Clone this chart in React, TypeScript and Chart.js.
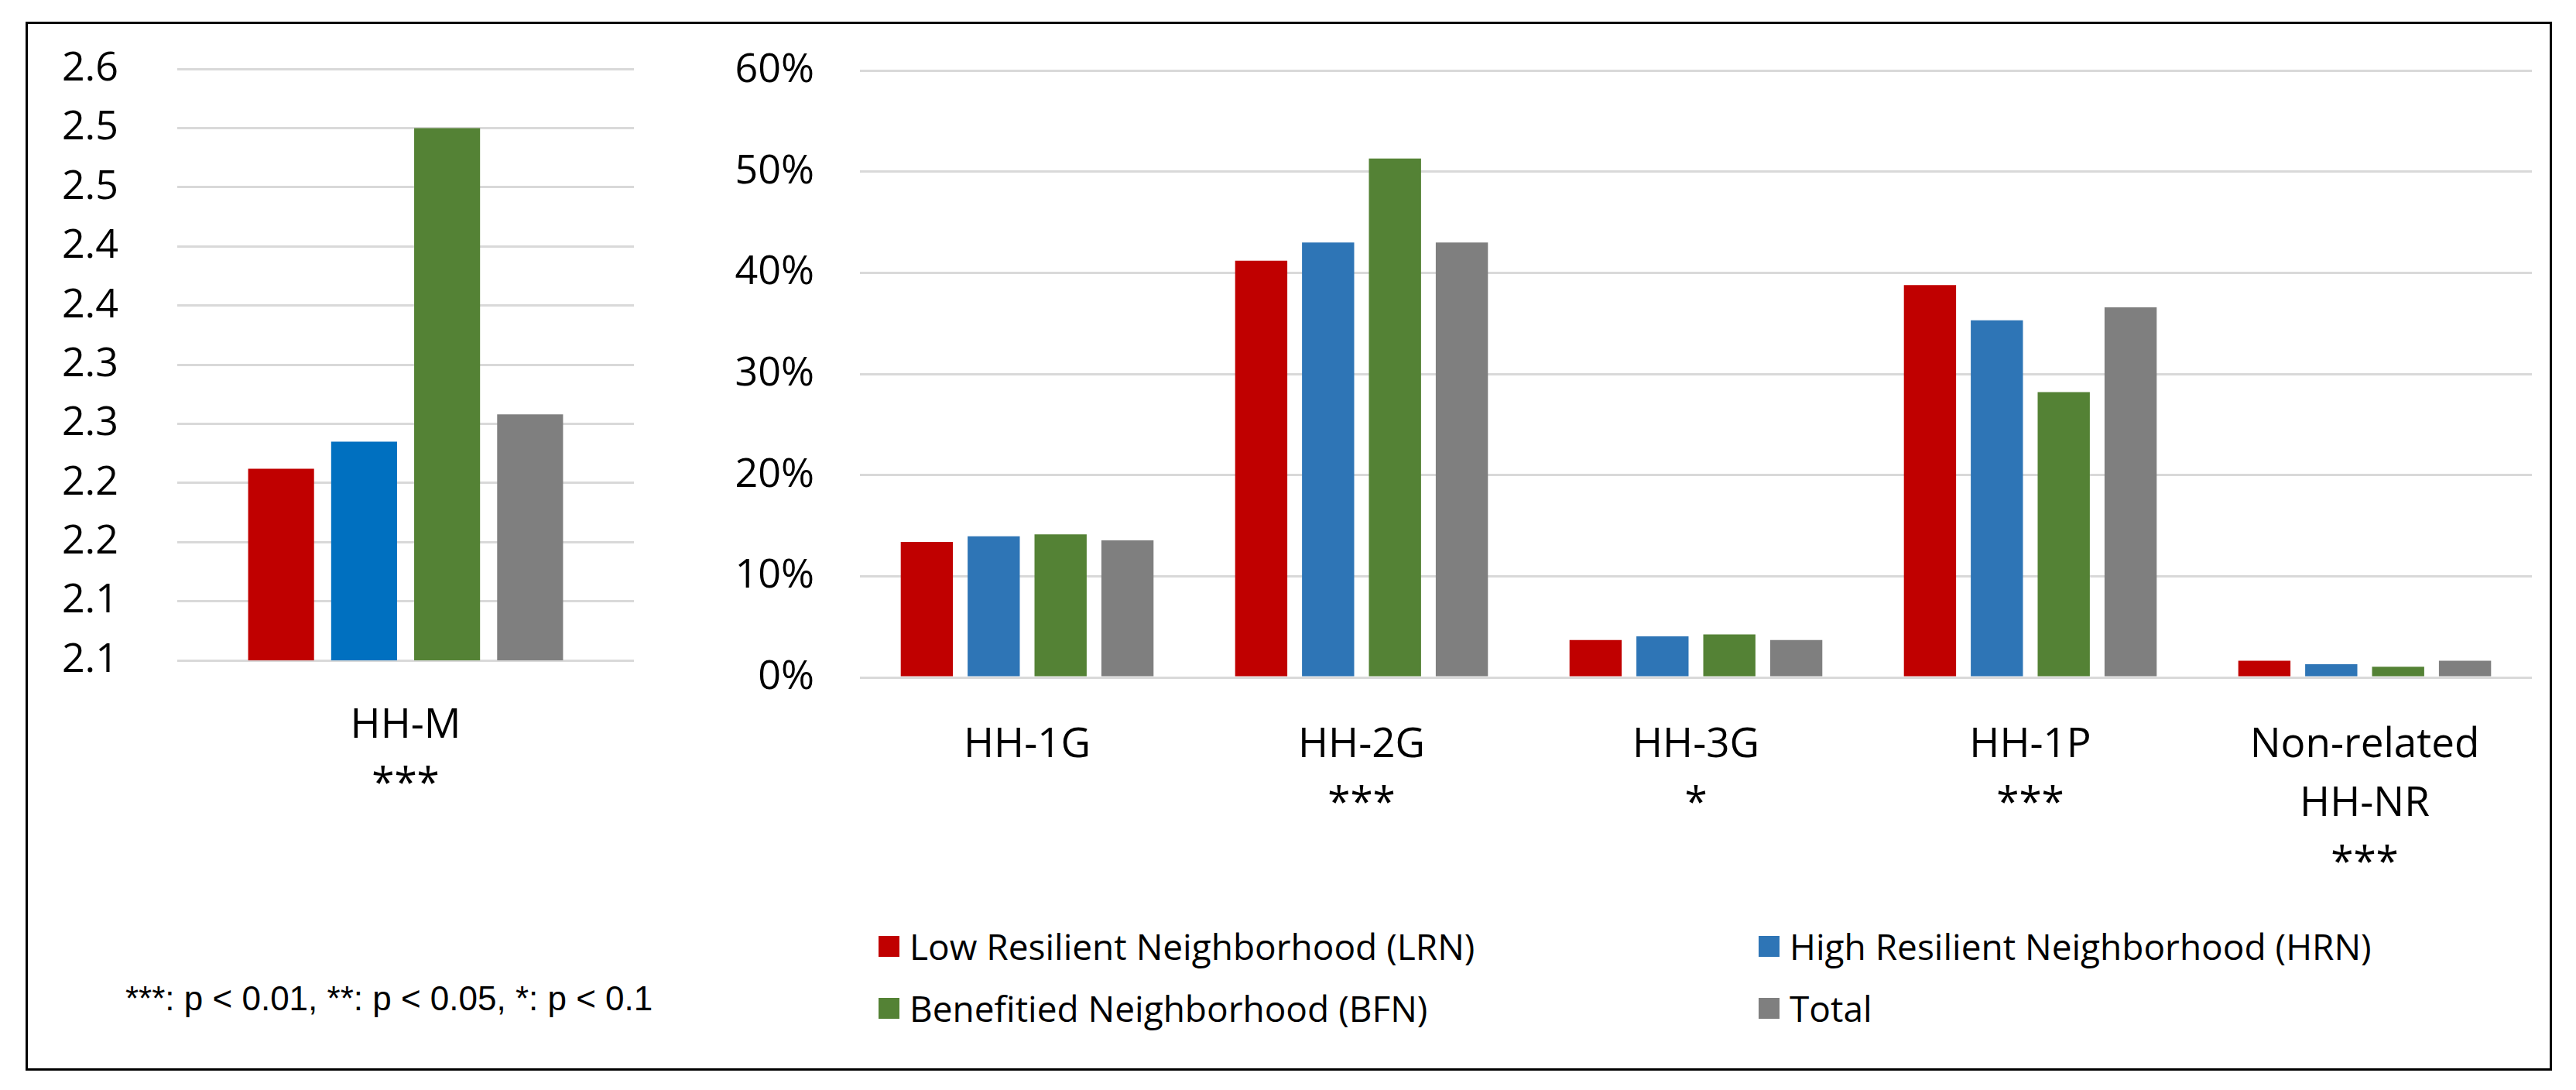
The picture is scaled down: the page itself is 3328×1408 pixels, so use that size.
import React, { useEffect, useRef } from 'react';
import { Chart, registerables } from 'chart.js';

Chart.register(...registerables);

// ---------- data ----------
const seriesNames = [
  'Low Resilient Neighborhood (LRN)',
  'High Resilient Neighborhood (HRN)',
  'Benefitied Neighborhood (BFN)',
  'Total',
];
const leftColors = ['#C00000', '#0070C0', '#548235', '#7F7F7F'];
const rightColors = ['#C00000', '#2E75B6', '#548235', '#7F7F7F'];

// left panel (household members)
const leftCategories = [['HH-M', '***']];
const leftLRN = [2.262];
const leftHRN = [2.285];
const leftBFN = [2.55];
const leftTotal = [2.308];
const leftTickLabels = ['2.1', '2.1', '2.2', '2.2', '2.3', '2.3', '2.4', '2.4', '2.5', '2.5', '2.6'];

// right panel (household type shares, %)
const rightCategories = [
  ['HH-1G'],
  ['HH-2G', '***'],
  ['HH-3G', '*'],
  ['HH-1P', '***'],
  ['Non-related', 'HH-NR', '***'],
];
const rightLRN = [13.4, 41.2, 3.7, 38.8, 1.65];
const rightHRN = [13.95, 43.0, 4.05, 35.3, 1.3];
const rightBFN = [14.15, 51.3, 4.25, 28.2, 1.05];
const rightTotal = [13.55, 43.0, 3.7, 36.6, 1.65];
const rightTickLabels = ['0%', '10%', '20%', '30%', '40%', '50%', '60%'];

const footnote = '***: p < 0.01, **: p < 0.05, *: p < 0.1';

const CHART_FONT = '"Open Sans", "Noto Sans", sans-serif';
const Y_FONT_SIZE = 52;
const X_FONT_SIZE = 53;

type PanelProps = {
  plotLeft: number;
  plotTop: number;
  plotRight: number;
  plotBottom: number;
  canvasLeft: number;
  canvasRightPad: number;
  xAxisHeight: number;
  labels: string[][];
  series: number[][];
  colors: string[];
  min: number;
  max: number;
  step: number;
  tickLabels: string[];
  yTickPadding: number;
  xTickPadding: number;
  catPct: number;
  barPct: number;
};

function BarPanel(p: PanelProps) {
  const ref = useRef<HTMLCanvasElement | null>(null);
  // Chart.js reserves half a label height plus tick padding above the plot area
  const topReserve = p.yTickPadding + (Y_FONT_SIZE * 1.2) / 2;
  const canvasTop = p.plotTop - topReserve;
  const width = p.plotRight + p.canvasRightPad - p.canvasLeft;
  const height = topReserve + (p.plotBottom - p.plotTop) + p.xAxisHeight;
  const yAxisWidth = p.plotLeft - p.canvasLeft;

  useEffect(() => {
    if (!ref.current) return;
    const chart = new Chart(ref.current, {
      type: 'bar',
      data: {
        labels: p.labels as any,
        datasets: p.series.map((d, i) => ({
          label: seriesNames[i],
          data: d,
          backgroundColor: p.colors[i],
          borderWidth: 0,
          categoryPercentage: p.catPct,
          barPercentage: p.barPct,
        })),
      },
      options: {
        responsive: false,
        animation: false,
        layout: { padding: { top: 0, right: p.canvasRightPad, left: 0, bottom: 0 } },
        plugins: { legend: { display: false }, tooltip: { enabled: false } },
        scales: {
          x: {
            grid: { display: false, drawTicks: false },
            border: { display: false },
            ticks: {
              padding: p.xTickPadding,
              color: '#000',
              font: { family: CHART_FONT, size: X_FONT_SIZE, lineHeight: 1.45 },
              maxRotation: 0,
              autoSkip: false,
            },
            afterFit: (s: any) => {
              s.height = p.xAxisHeight;
            },
          },
          y: {
            min: p.min,
            max: p.max,
            grid: { color: '#D9D9D9', lineWidth: 3, drawTicks: false },
            border: { display: false },
            ticks: {
              stepSize: p.step,
              padding: p.yTickPadding,
              color: '#000',
              font: { family: CHART_FONT, size: Y_FONT_SIZE, lineHeight: 1.2 },
              callback: (_v: any, i: number) => p.tickLabels[i],
            },
            afterFit: (s: any) => {
              s.width = yAxisWidth;
            },
          },
        },
      },
    });
    return () => chart.destroy();
  }, []);
  return (
    <canvas
      ref={ref}
      width={Math.round(width)}
      height={Math.round(height)}
      style={{
        position: 'absolute',
        left: p.canvasLeft,
        top: canvasTop,
        width: Math.round(width),
        height: Math.round(height),
      }}
    />
  );
}

export default function App() {
  const legendOrder = [0, 1, 2, 3];
  return (
    <div
      style={{
        position: 'fixed',
        left: 0,
        top: 0,
        width: 3328,
        height: 1408,
        background: '#fff',
        overflow: 'hidden',
      }}
    >
      <div
        style={{
          position: 'absolute',
          left: 33,
          top: 28,
          width: 3264,
          height: 1355,
          border: '3px solid #000',
          boxSizing: 'border-box',
        }}
      />
      <BarPanel
        plotLeft={229}
        plotTop={89}
        plotRight={819}
        plotBottom={853}
        canvasLeft={40}
        canvasRightPad={21}
        xAxisHeight={250}
        labels={leftCategories}
        series={[leftLRN, leftHRN, leftBFN, leftTotal]}
        colors={leftColors}
        min={2.1}
        max={2.6}
        step={0.05}
        tickLabels={leftTickLabels}
        yTickPadding={76}
        xTickPadding={46}
        catPct={0.727}
        barPct={0.794}
      />
      <BarPanel
        plotLeft={1111}
        plotTop={91}
        plotRight={3271}
        plotBottom={875}
        canvasLeft={900}
        canvasRightPad={19}
        xAxisHeight={270}
        labels={rightCategories}
        series={[rightLRN, rightHRN, rightBFN, rightTotal]}
        colors={rightColors}
        min={0}
        max={60}
        step={10}
        tickLabels={rightTickLabels}
        yTickPadding={59}
        xTickPadding={49}
        catPct={0.8}
        barPct={0.78}
      />
      <div
        style={{
          position: 'absolute',
          left: 1135,
          top: 1182,
          display: 'grid',
          gridTemplateColumns: '1137px 1000px',
          gridAutoRows: '80px',
          fontFamily: CHART_FONT,
          fontSize: 46,
          color: '#000',
        }}
      >
        {legendOrder.map((i) => (
          <div key={i} style={{ display: 'flex', alignItems: 'center', whiteSpace: 'nowrap' }}>
            <span
              style={{
                display: 'inline-block',
                width: 27,
                height: 27,
                background: rightColors[i],
                marginRight: 13,
              }}
            />
            <span>{seriesNames[i]}</span>
          </div>
        ))}
      </div>
      <div
        style={{
          position: 'absolute',
          left: 162,
          top: 1260,
          lineHeight: '60px',
          fontFamily: '"Liberation Sans", Arial, sans-serif',
          fontSize: 44,
          color: '#000',
          whiteSpace: 'nowrap',
        }}
      >
        {footnote}
      </div>
    </div>
  );
}
